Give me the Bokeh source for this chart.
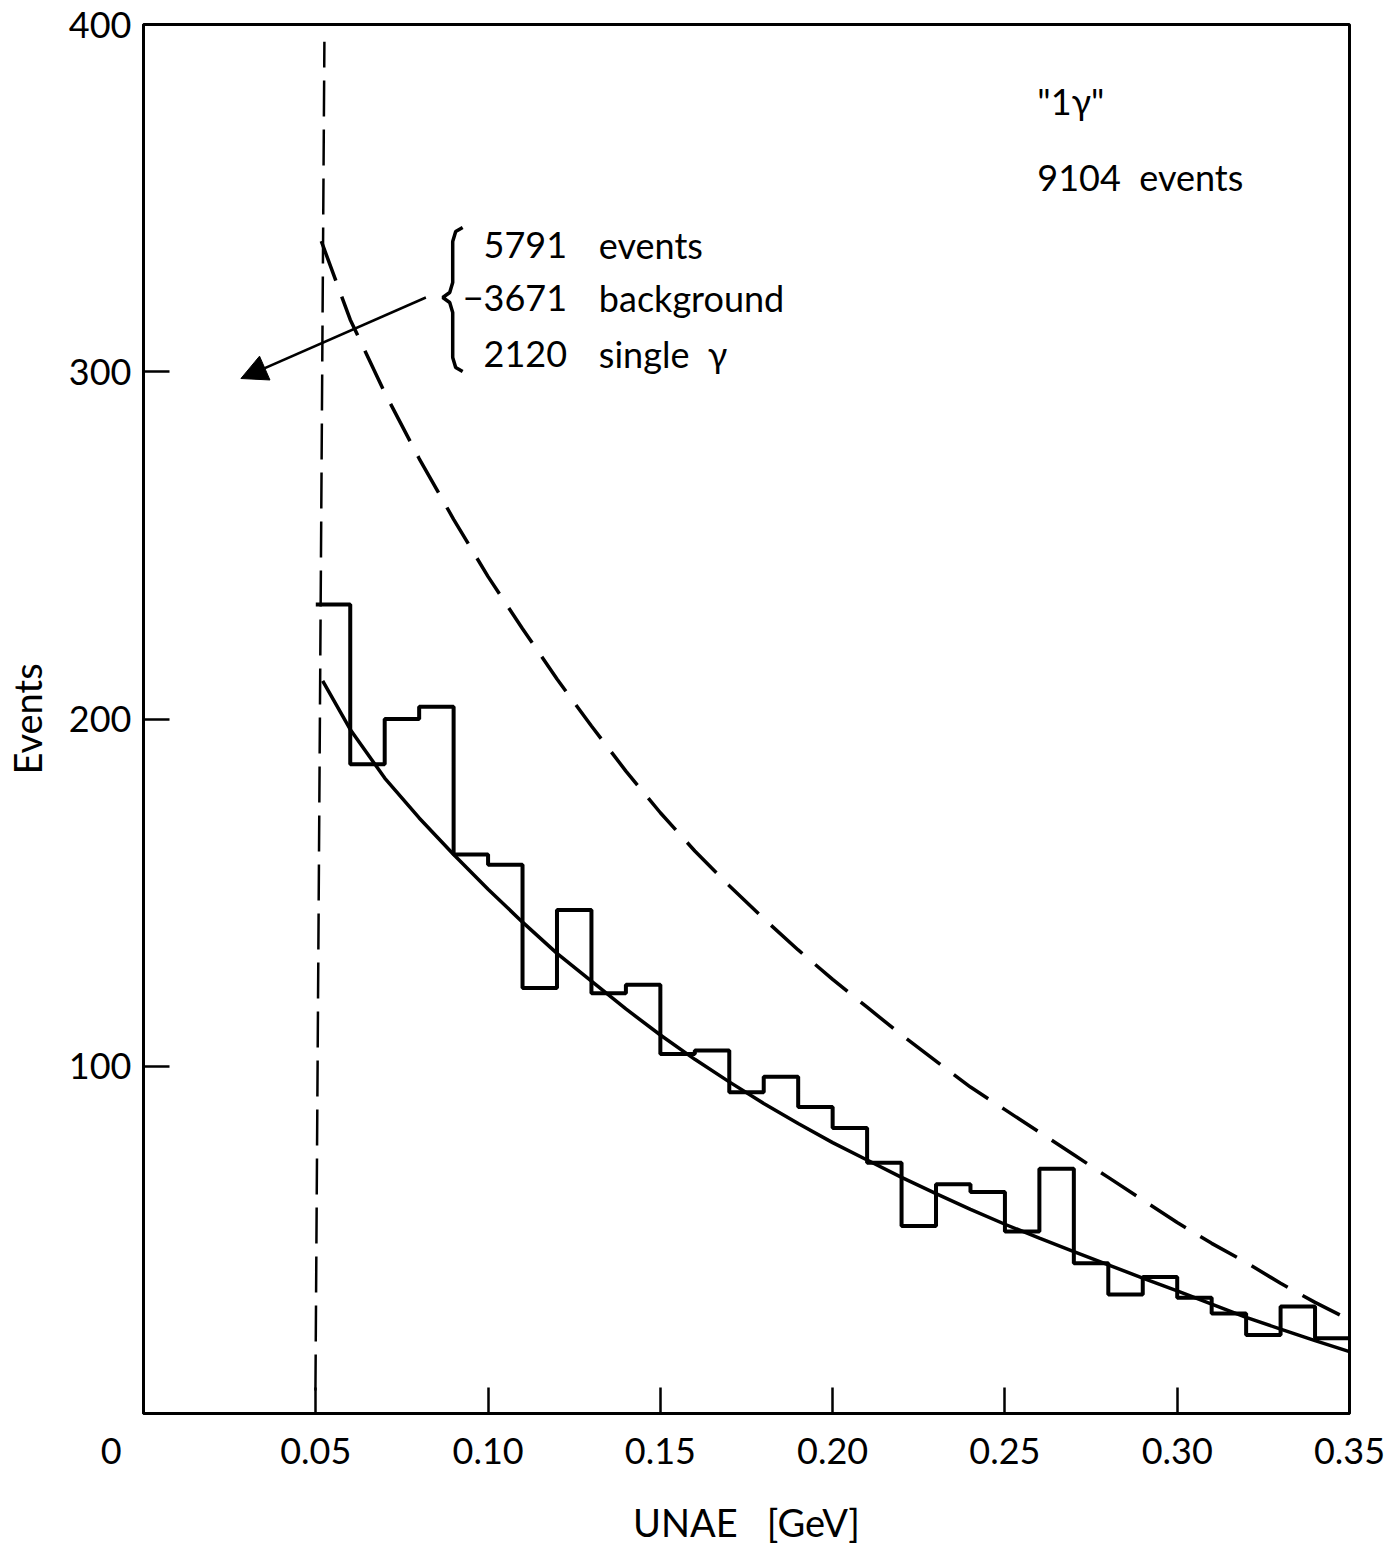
from bokeh.plotting import figure
from bokeh.models import Range1d, FixedTicker, Label, Arrow, NormalHead
from bokeh.embed import file_html
from bokeh.resources import INLINE

# ---- data ----
bin_edges = [0.05, 0.06, 0.07, 0.08, 0.09, 0.10, 0.11, 0.12, 0.13, 0.14, 0.15,
             0.16, 0.17, 0.18, 0.19, 0.20, 0.21, 0.22, 0.23, 0.24, 0.25,
             0.26, 0.27, 0.28, 0.29, 0.30, 0.31, 0.32, 0.33, 0.34, 0.35]
counts = [233, 187, 200, 203.5, 161, 158, 122.5, 145, 121, 123.5,
          103.5, 104.5, 92.5, 97, 88.3, 82.2, 72.2, 54, 66, 63.8,
          52.4, 70.5, 43.3, 34.3, 39.3, 33.3, 28.8, 22.6, 30.8, 21.7]

fit_x = [0.052, 0.06, 0.07, 0.08, 0.09, 0.10, 0.11, 0.12, 0.13, 0.14, 0.15,
         0.16, 0.17, 0.18, 0.19, 0.20, 0.21, 0.22, 0.23, 0.24, 0.25,
         0.26, 0.27, 0.28, 0.29, 0.30, 0.31, 0.32, 0.33, 0.34, 0.35]
fit_y = [211, 197, 183, 171.5, 161, 151, 141.5, 132.5, 124.5, 116.5, 109,
         102, 95.5, 89.3, 83.5, 78, 73, 68, 63.3, 58.8, 54.5,
         50.5, 46.6, 42.8, 39, 35.3, 31.5, 27.7, 24.3, 21, 17.8]

bg_x = [0.0516, 0.06, 0.07, 0.08, 0.09, 0.10, 0.11, 0.12, 0.13, 0.14, 0.15,
        0.16, 0.17, 0.18, 0.19, 0.20, 0.21, 0.22, 0.23, 0.24, 0.25,
        0.26, 0.27, 0.28, 0.29, 0.30, 0.31, 0.32, 0.33, 0.34, 0.35]
bg_y = [337.6, 315, 294, 275, 257.5, 241, 226, 211.5, 198, 185, 173,
        162, 152, 142.5, 133.5, 125, 117, 109, 101.5, 94, 87.5,
        81, 74.5, 68, 61.5, 55, 49, 43.5, 37.5, 32, 27]

cut_x = [0.0499, 0.0525]
cut_y = [6.6, 395]

x_ticks = [0, 0.05, 0.10, 0.15, 0.20, 0.25, 0.30, 0.35]
x_tick_labels = ["0" + "\u00a0" * 7, "0.05", "0.10", "0.15", "0.20", "0.25", "0.30", "0.35"]
y_ticks = [100, 200, 300, 400]

title_lines = ['"1\u03b3"', "9104\u00a0\u00a0events"]
bal_numbers = ["5791", "\u22123671", "2120"]
bal_words = ["events", "background", "single\u00a0\u00a0\u03b3"]

FONT = "Lato"
FS = "36px"

# pixel -> data helpers for annotation placement
X0, X1, Y0, Y1 = 136, 1349, 1413, 24
def px2x(px):
    return (px - X0) / (X1 - X0) * 0.35
def px2y(py):
    return (Y0 - py) / (Y0 - Y1) * 400.0

p = figure(width=1390, height=1553, x_range=Range1d(0, 0.35), y_range=Range1d(0, 400),
           output_backend="svg", toolbar_location=None,
           min_border_left=136, min_border_right=41, min_border_top=24, min_border_bottom=140)
p.grid.visible = False
p.background_fill_color = "white"
p.border_fill_color = "white"
p.outline_line_color = "black"
p.outline_line_width = 3

for ax in (p.xaxis[0], p.yaxis[0]):
    ax.axis_line_width = 3
    ax.axis_line_color = "black"
    ax.major_tick_in = 26
    ax.major_tick_out = 0
    ax.major_tick_line_width = 2.5
    ax.minor_tick_line_color = None
    ax.major_label_text_font = FONT
    ax.major_label_text_font_size = FS
    ax.major_label_text_color = "black"
    ax.axis_label_text_font = FONT
    ax.axis_label_text_font_size = "38px"
    ax.axis_label_text_font_style = "normal"
    ax.axis_label_text_color = "black"

p.xaxis.ticker = FixedTicker(ticks=x_ticks)
p.xaxis.major_label_overrides = {t: l for t, l in zip(x_ticks, x_tick_labels)}
p.xaxis.major_label_standoff = 14
p.xaxis.axis_label = "UNAE\u00a0\u00a0\u00a0[GeV]"
p.xaxis.axis_label_standoff = 24

p.yaxis.ticker = FixedTicker(ticks=y_ticks)
p.yaxis.major_label_standoff = 12
p.yaxis.axis_label = "Events"
p.yaxis.axis_label_standoff = 16

# histogram
p.step(x=bin_edges, y=counts + [counts[-1]], mode="after", line_color="black", line_width=4)
# fit curve
p.line(fit_x, fit_y, line_color="black", line_width=3.5)
# background curve (dashed)
p.line(bg_x, bg_y, line_color="black", line_width=3.5, line_dash="42 17")
# cut line
p.line(cut_x, cut_y, line_color="black", line_width=2.5, line_dash="36 13")

# top-right labels
p.add_layout(Label(x=px2x(1035), y=px2y(100), text=title_lines[0], text_font=FONT,
                   text_font_size=FS, text_baseline="middle", text_align="left",
                   text_color="black"))
p.add_layout(Label(x=px2x(1035), y=px2y(176), text=title_lines[1], text_font=FONT,
                   text_font_size=FS, text_baseline="middle", text_align="left",
                   text_color="black"))

# balance block
for i, (n, w) in enumerate(zip(bal_numbers, bal_words)):
    yy = px2y([244, 297, 353][i])
    p.add_layout(Label(x=px2x(562), y=yy, text=n, text_font=FONT, text_font_size=FS,
                       text_baseline="middle", text_align="right", text_color="black"))
    p.add_layout(Label(x=px2x(594), y=yy, text=w, text_font=FONT, text_font_size=FS,
                       text_baseline="middle", text_align="left", text_color="black"))

# brace
brace_px = [(457, 227), (450, 231), (447, 241), (447, 282), (444, 292), (437, 297),
            (444, 302), (447, 312), (447, 357), (450, 367), (457, 371)]
p.line([px2x(a) for a, b in brace_px], [px2y(b) for a, b in brace_px],
       line_color="black", line_width=3.5)

# arrow
p.add_layout(Arrow(x_start=px2x(420), y_start=px2y(297), x_end=px2x(234), y_end=px2y(378),
                   line_width=2.5, line_color="black",
                   end=NormalHead(size=26, fill_color="black", line_color="black", line_width=1)))

open("out.html", "w").write(file_html(p, INLINE))
